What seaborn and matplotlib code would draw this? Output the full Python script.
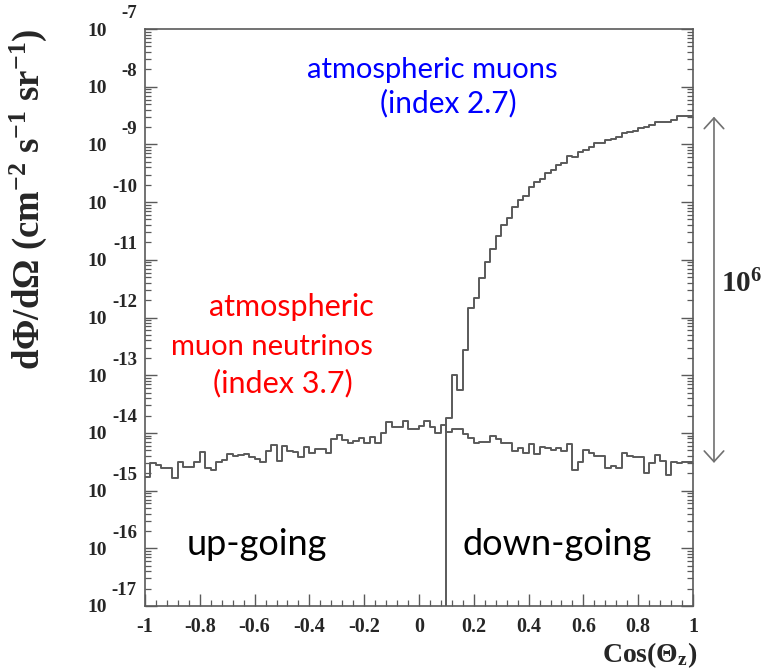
import numpy as np
import pandas as pd
import matplotlib
matplotlib.use("Agg")
import matplotlib.pyplot as plt
import matplotlib.ticker as mticker
import seaborn as sns

# ---------------- data ----------------
x_range = (-1.0, 1.0)
n_bins = 100

# atmospheric muon neutrinos, log10 of dPhi/dOmega per bin (100 bins, -1 .. 1)
nu_log10_flux = [
    -14.76, -14.53, -14.56, -14.61, -14.60, -14.79, -14.51, -14.59, -14.59, -14.50,
    -14.33, -14.61, -14.64, -14.50, -14.47, -14.37, -14.40, -14.38, -14.36, -14.41,
    -14.46, -14.50, -14.31, -14.21, -14.49, -14.22, -14.31, -14.33, -14.41, -14.25,
    -14.35, -14.28, -14.28, -14.35, -14.11, -14.04, -14.12, -14.18, -14.14, -14.09,
    -14.18, -14.07, -14.18, -14.01, -13.81, -13.89, -13.89, -13.79, -13.94, -13.94,
    -13.88, -13.79, -13.89, -14.01, -13.86, -13.98, -13.94, -13.94, -14.02, -14.09,
    -14.17, -14.15, -14.15, -14.05, -14.11, -14.17, -14.17, -14.32, -14.27, -14.34,
    -14.20, -14.36, -14.24, -14.27, -14.30, -14.27, -14.32, -14.20, -14.64, -14.50,
    -14.30, -14.35, -14.40, -14.40, -14.61, -14.57, -14.60, -14.35, -14.40, -14.42,
    -14.41, -14.70, -14.52, -14.38, -14.49, -14.73, -14.50, -14.52, -14.51, -14.51,
]

# atmospheric muons: empty below cos = 0.1, log10 flux per bin from 0.1 .. 1
mu_first_edge = 0.1
mu_log10_flux = [
    -13.75, -13.00, -13.25, -12.57, -11.84, -11.66, -11.32, -11.03, -10.81, -10.59,
    -10.40, -10.28, -10.09, -9.96, -9.89, -9.73, -9.66, -9.60, -9.49, -9.44,
    -9.36, -9.33, -9.20, -9.22, -9.13, -9.09, -9.04, -8.98, -8.97, -8.92,
    -8.90, -8.87, -8.80, -8.78, -8.77, -8.72, -8.69, -8.66, -8.62, -8.62,
    -8.62, -8.57, -8.51, -8.51, -8.51,
]

x_ticks = [-1.0, -0.8, -0.6, -0.4, -0.2, 0.0, 0.2, 0.4, 0.6, 0.8, 1.0]
x_tick_labels = ["-1", "-0.8", "-0.6", "-0.4", "-0.2", "0", "0.2", "0.4", "0.6", "0.8", "1"]
y_decades = list(range(-17, -6))

arrow_span_log10 = (-8.52, -14.52)

# ---------------- style ----------------
sns.set_style("white")
plt.rcParams.update({
    "font.family": ["Liberation Serif", "DejaVu Serif"],
    "font.weight": "bold",
    "axes.labelweight": "bold",
    "mathtext.fontset": "custom",
    "mathtext.rm": "Liberation Serif:bold",
    "mathtext.bf": "Liberation Serif:bold",
    "mathtext.it": "Liberation Serif:bold:italic",
    "axes.unicode_minus": False,
})

W, H = 769, 670
fig = plt.figure(figsize=(W / 100, H / 100), dpi=100)
L, R, T, B = 145, 693, 29, 606
ax = fig.add_axes([L / W, 1 - B / H, (R - L) / W, (B - T) / H])

line_c = "#5a5a5a"
edges = np.linspace(x_range[0], x_range[1], n_bins + 1)
ymin, ymax = 10.0 ** y_decades[0], 10.0 ** y_decades[-1]

nu_vals = 10.0 ** np.array(nu_log10_flux)
df_nu = pd.DataFrame({"cos": edges, "flux": np.append(nu_vals, nu_vals[-1])})
sns.lineplot(data=df_nu, x="cos", y="flux", drawstyle="steps-post", estimator=None,
             sort=False, color=line_c, lw=1.4, ax=ax)

mu_edges = edges[edges >= mu_first_edge - 1e-9]
mu_vals = 10.0 ** np.array(mu_log10_flux)
df_mu = pd.DataFrame({
    "cos": np.concatenate([[mu_edges[0]], mu_edges]),
    "flux": np.concatenate([[ymin], mu_vals, [mu_vals[-1]]]),
})
sns.lineplot(data=df_mu, x="cos", y="flux", drawstyle="steps-post", estimator=None,
             sort=False, color=line_c, lw=1.4, ax=ax)

ax.set_yscale("log")
ax.set_xlim(*x_range)
ax.set_ylim(ymin, ymax)

# y axis: ROOT-style "10" labels with a raised exponent beside them
ax.yaxis.set_major_locator(mticker.FixedLocator([10.0 ** d for d in y_decades]))
ax.yaxis.set_major_formatter(mticker.FuncFormatter(lambda v, p: "10"))
ax.yaxis.set_minor_locator(mticker.LogLocator(base=10, subs=np.arange(2, 10), numticks=200))
ax.yaxis.set_minor_formatter(mticker.NullFormatter())
for d in y_decades:
    ax.text(-0.0146, 10.0 ** (d + 0.26), f"{d}", transform=ax.get_yaxis_transform(),
            ha="right", va="center", fontsize=13.5, fontweight="bold", clip_on=False)

ax.set_xticks(x_ticks)
ax.set_xticklabels(x_tick_labels)
ax.xaxis.set_minor_locator(mticker.MultipleLocator(0.04))

ax.tick_params(axis="y", which="both", direction="in", left=True, right=True,
               color=line_c)
ax.tick_params(axis="x", which="both", direction="in", bottom=True, top=False,
               color=line_c)
ax.tick_params(which="major", length=8.5, width=1.0)
ax.tick_params(which="minor", length=4.0, width=0.9)
ax.tick_params(axis="y", which="major", labelsize=14, pad=27.5)
ax.tick_params(axis="x", which="major", labelsize=14.5, pad=8)

for s in ax.spines.values():
    s.set_color(line_c)
    s.set_linewidth(1.2)
    s.set_zorder(5)

ax.set_xlabel(r"Cos($\Theta_{\mathbf{z}}$)", fontsize=20, loc="right")
ax.xaxis.set_label_coords(1.008, -0.0855)
ax.xaxis.label.set_va("center")
ax.set_ylabel(r"d$\Phi$/d$\Omega$ (cm$^{-2}$ s$^{-1}$ sr$^{-1}$)", fontsize=26.5, loc="top")
ax.yaxis.set_label_coords(-0.2135, 1.0)
ax.yaxis.label.set_va("center")

# ---------------- annotations ----------------
ann = dict(family=["Lato", "DejaVu Sans"], fontweight="normal", ha="center", va="center")
ax.text(0.047, 10 ** -7.71, "atmospheric muons", color="#0000ff", fontsize=21, **ann)
ax.text(0.106, 10 ** -8.28, "(index 2.7)", color="#0000ff", fontsize=21.5, **ann)
ax.text(-0.464, 10 ** -11.82, "atmospheric", color="#ff0000", fontsize=22, **ann)
ax.text(-0.536, 10 ** -12.51, "muon neutrinos", color="#ff0000", fontsize=21, **ann)
ax.text(-0.496, 10 ** -13.14, "(index 3.7)", color="#ff0000", fontsize=22, **ann)
ax.text(-0.591, 10 ** -15.94, "up-going", color="black", fontsize=26, **ann)
ax.text(0.504, 10 ** -15.94, "down-going", color="black", fontsize=26, **ann)

arrow_x = 1.0766
ax.annotate("", xy=(arrow_x, 10 ** arrow_span_log10[0]),
            xytext=(arrow_x, 10 ** arrow_span_log10[1]),
            arrowprops=dict(arrowstyle="<->,head_length=0.55,head_width=0.5",
                            color="#707070", lw=1.2, mutation_scale=14,
                            shrinkA=0, shrinkB=0),
            annotation_clip=False)
ax.text(1.104, 10 ** -11.42, r"10$^{\mathbf{6}}$", fontsize=21, ha="left", va="center",
        clip_on=False)

fig.savefig("out.png", dpi=100, facecolor="white")
